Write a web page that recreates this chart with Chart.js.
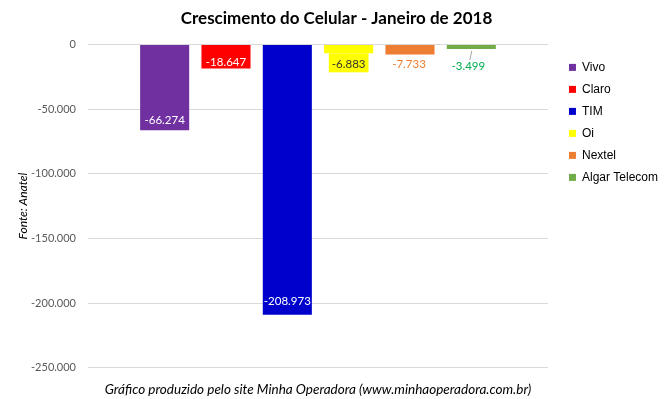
<!DOCTYPE html>
<html>
<head>
<meta charset="utf-8">
<script src="https://cdn.jsdelivr.net/npm/chart.js@4"></script>
<style>
  html, body { margin: 0; padding: 0; background: #fff; }
  #wrap { width: 667px; height: 399px; }
</style>
</head>
<body>
<div id="wrap"><canvas id="chart"></canvas></div>
<script>
// dados (fonte: Anatel)
const categories = ['Janeiro de 2018'];
const operators = ['Vivo', 'Claro', 'TIM', 'Oi', 'Nextel', 'Algar Telecom'];
const growth = [-66274, -18647, -208973, -6883, -7733, -3499];
const yTicks = [0, -50000, -100000, -150000, -200000, -250000];

const colors = ['#7030a0', '#ff0000', '#0000cc', '#ffff00', '#ed7d31', '#70ad47'];

// como cada rótulo é desenhado (dentro da barra ou abaixo dela)
const labelStyles = [
  { mode: 'inside', color: '#ffffff', dy: -10 },
  { mode: 'inside', color: '#ffffff', dy: -6.5 },
  { mode: 'inside', color: '#ffffff', dy: -13 },
  { mode: 'box', color: '#333333', bg: '#ffff00', dy: 10.5 },
  { mode: 'outside', color: '#ed7d31', dy: 9.5 },
  { mode: 'leader', color: '#00b050', dy: 17 }
];

const fmt = v => {
  const s = Math.abs(Math.round(v)).toString().replace(/\B(?=(\d{3})+(?!\d))/g, '.');
  return (v < 0 ? '-' : '') + s;
};

const labelFont = '11.5px Lato';

const barLabels = {
  id: 'barLabels',
  afterDatasetsDraw(chart) {
    const ctx = chart.ctx;
    ctx.save();
    ctx.font = labelFont;
    ctx.textAlign = 'center';
    ctx.textBaseline = 'middle';
    chart.data.datasets.forEach((ds, i) => {
      const meta = chart.getDatasetMeta(i);
      const st = labelStyles[i];
      meta.data.forEach((bar, j) => {
        const txt = fmt(ds.data[j]);
        let x = bar.x;
        const end = bar.y; // fim da barra negativa
        if (st.mode === 'box') {
          const w = ctx.measureText(txt).width + 6;
          ctx.fillStyle = st.bg;
          ctx.fillRect(x - w / 2, end, w, 19);
        } else if (st.mode === 'leader') {
          ctx.strokeStyle = '#a6a6a6';
          ctx.lineWidth = 1;
          ctx.beginPath();
          ctx.moveTo(x + 0.5, end + 2);
          ctx.lineTo(x - 1.5, end + 11);
          ctx.stroke();
          x -= 3;
        } else if (st.mode === 'outside') {
          x -= 1;
        }
        ctx.fillStyle = st.color;
        ctx.fillText(txt, x, end + st.dy);
      });
    });
    ctx.restore();
  }
};

// empurra a legenda para a direita como no original
const legendShift = {
  id: 'legendShift',
  afterLayout(chart) {
    const lg = chart.legend;
    if (!lg) return;
    lg.left += 11;
    lg.right += 11;
  }
};

new Chart(document.getElementById('chart'), {
  type: 'bar',
  data: {
    labels: categories,
    datasets: operators.map((name, i) => ({
      label: name,
      data: [growth[i]],
      backgroundColor: colors[i],
      borderWidth: 0,
      barPercentage: 0.8,
      categoryPercentage: 0.8
    }))
  },
  options: {
    responsive: true,
    maintainAspectRatio: false,
    animation: false,
    layout: { padding: { left: 16, right: 10, top: 0, bottom: 1 } },
    plugins: {
      title: {
        display: true,
        text: 'Crescimento do Celular - Janeiro de 2018',
        color: '#000',
        font: { family: 'Lato', size: 17, weight: 'bold' },
        padding: { top: 8, bottom: 16 }
      },
      legend: {
        position: 'right',
        align: 'start',
        labels: {
          boxWidth: 7,
          boxHeight: 7,
          padding: 10,
          color: '#000',
          font: { family: 'Liberation Sans', size: 12 }
        },
        title: { display: true, text: ' ', padding: { top: 6, bottom: 31 }, font: { size: 12 } }
      },
      tooltip: { enabled: false }
    },
    scales: {
      x: {
        grid: { display: false },
        border: { display: false },
        ticks: { display: false },
        title: {
          display: true,
          text: 'Gráfico produzido pelo site Minha Operadora (www.minhaoperadora.com.br)',
          color: '#000',
          font: { family: 'Lato', size: 13.5, style: 'italic' },
          padding: { top: 6, bottom: 0 }
        }
      },
      y: {
        min: yTicks[yTicks.length - 1],
        max: yTicks[0],
        afterBuildTicks: axis => { axis.ticks = yTicks.map(v => ({ value: v })); },
        afterFit: axis => { axis.width = 72; },
        grid: { color: '#d9d9d9', drawTicks: false },
        border: { display: false },
        ticks: {
          color: '#595959',
          padding: 12,
          font: { family: 'Lato', size: 11 },
          callback: v => fmt(v)
        },
        title: {
          display: true,
          text: 'Fonte: Anatel',
          color: '#000',
          font: { family: 'Lato', size: 12, style: 'italic' },
          padding: { top: 0, bottom: 4 }
        }
      }
    }
  },
  plugins: [barLabels, legendShift]
});
</script>
</body>
</html>
